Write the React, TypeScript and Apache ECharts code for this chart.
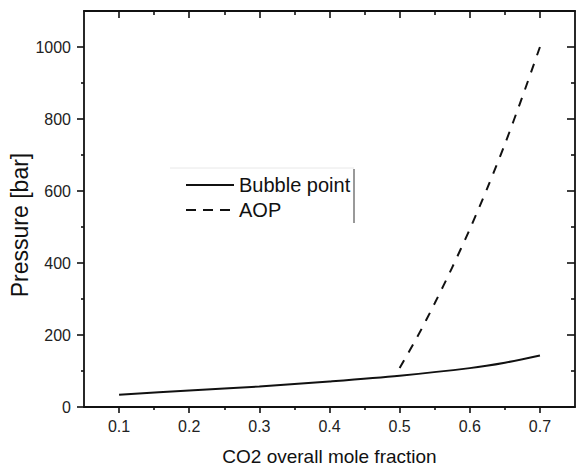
import React, { useEffect, useRef } from "react";
import * as echarts from "echarts";

const bubbleX = [0.1, 0.2, 0.3, 0.4, 0.5, 0.6, 0.65, 0.7];
const bubbleY = [34, 46, 57, 71, 87, 108, 123, 143];
const aopX = [0.5, 0.525, 0.55, 0.575, 0.6, 0.625, 0.65, 0.675, 0.7];
const aopY = [108, 194, 288, 388, 494, 608, 730, 862, 1000];

const xMajor = [0.1, 0.2, 0.3, 0.4, 0.5, 0.6, 0.7];
const xMinor = [0.15, 0.25, 0.35, 0.45, 0.55, 0.65];
const yMajor = [0, 200, 400, 600, 800, 1000];
const yMinor = [100, 300, 500, 700, 900];

const FONT = "'Liberation Sans', Arial, sans-serif";
const INK = "#111";

export default function App() {
  const ref = useRef<HTMLDivElement>(null);
  useEffect(() => {
    if (!ref.current) return;
    const chart = echarts.init(ref.current, null, { renderer: "svg" });
    const line = { show: true, onZero: false, lineStyle: { color: INK, width: 1.8 } };
    const noLine = { show: false, onZero: false };
    const baseX = { type: "value", min: 0.05, max: 0.75, splitLine: { show: false } };
    const baseY = { type: "value", min: 0, max: 1100, splitLine: { show: false } };
    const tick = (vals: number[], len: number, inside: boolean) => ({
      show: true,
      inside,
      length: len,
      customValues: vals,
      lineStyle: { color: INK, width: 1.6 },
    });
    chart.setOption({
      animation: false,
      grid: { left: 84, right: 2, top: 11, bottom: 59, outerBoundsMode: "none", containLabel: false },
      legend: {
        orient: "vertical",
        left: 185,
        top: 175,
        padding: 0,
        itemWidth: 48,
        itemHeight: 14,
        itemGap: 5,
        itemStyle: { color: "rgba(0,0,0,0)", borderWidth: 0, opacity: 0 },
        textStyle: { fontFamily: FONT, fontSize: 20, color: INK, lineHeight: 20 },
        data: [
          { name: "Bubble point" },
          { name: "AOP", lineStyle: { type: [10, 7] } },
        ],
      },
      xAxis: [
        {
          ...baseX,
          position: "bottom",
          axisLine: line,
          axisTick: tick(xMajor, 6, false),
          axisLabel: {
            customValues: xMajor,
            margin: 11,
            fontFamily: FONT,
            fontSize: 16,
            color: "#222",
            formatter: (v: number) => v.toFixed(1),
          },
          name: "CO2 overall mole fraction",
          nameLocation: "middle",
          nameGap: 40,
          nameTextStyle: { fontFamily: FONT, fontSize: 19, color: INK },
        },
        { ...baseX, position: "bottom", axisLine: noLine, axisTick: tick(xMinor, 3, false), axisLabel: { show: false } },
        { ...baseX, position: "top", axisLine: line, axisTick: tick(xMajor, 7, true), axisLabel: { show: false } },
        { ...baseX, position: "top", axisLine: noLine, axisTick: tick(xMinor, 4, true), axisLabel: { show: false } },
      ],
      yAxis: [
        {
          ...baseY,
          position: "left",
          axisLine: line,
          axisTick: tick(yMajor, 7, false),
          axisLabel: {
            customValues: yMajor,
            margin: 13,
            fontFamily: FONT,
            fontSize: 16,
            color: "#222",
            formatter: (v: number) => String(v),
          },
        },
        { ...baseY, position: "left", axisLine: noLine, axisTick: tick(yMinor, 3, false), axisLabel: { show: false } },
        { ...baseY, position: "right", axisLine: line, axisTick: tick(yMajor, 8, true), axisLabel: { show: false } },
        { ...baseY, position: "right", axisLine: noLine, axisTick: tick(yMinor, 4, true), axisLabel: { show: false } },
      ],
      series: [
        {
          name: "Bubble point",
          type: "line",
          xAxisIndex: 0,
          yAxisIndex: 0,
          symbol: "none",
          smooth: 0.3,
          lineStyle: { color: INK, width: 2 },
          itemStyle: { color: INK },
          data: bubbleX.map((x, i) => [x, bubbleY[i]]),
        },
        {
          name: "AOP",
          type: "line",
          xAxisIndex: 0,
          yAxisIndex: 0,
          symbol: "none",
          smooth: 0.3,
          lineStyle: { color: INK, width: 2, type: [9, 9] },
          itemStyle: { color: INK },
          data: aopX.map((x, i) => [x, aopY[i]]),
        },
      ],
      graphic: [
        {
          type: "line",
          shape: { x1: 170, y1: 168, x2: 354, y2: 168 },
          style: { stroke: "#e8e8e8", lineWidth: 1 },
        },
        {
          type: "line",
          shape: { x1: 354, y1: 169, x2: 354, y2: 223 },
          style: { stroke: "#777", lineWidth: 1.5 },
        },
        {
          type: "text",
          x: 20,
          y: 225,
          rotation: Math.PI / 2,
          style: {
            text: "Pressure [bar]",
            fontFamily: FONT,
            fontSize: 23,
            fill: INK,
            align: "center",
            verticalAlign: "middle",
          },
        },
      ],
    });
    return () => chart.dispose();
  }, []);
  return (
    <div
      ref={ref}
      style={{ position: "fixed", left: 0, top: 0, width: 577, height: 466, background: "#fff" }}
    />
  );
}
